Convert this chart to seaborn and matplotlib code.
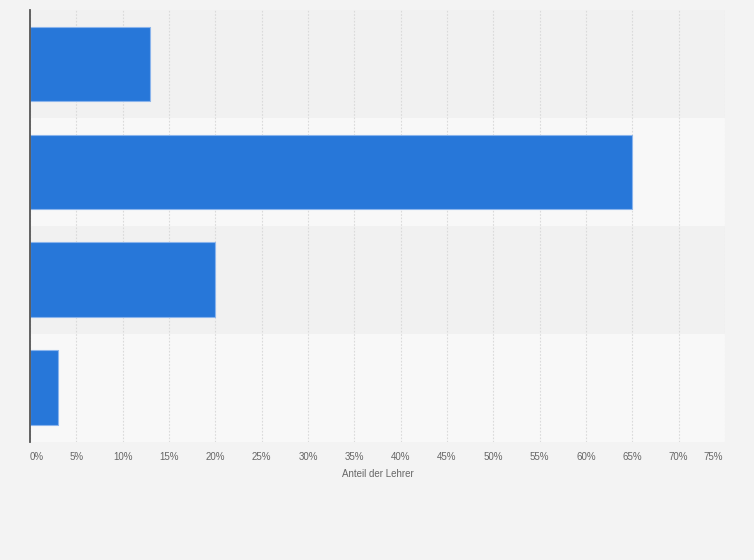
import matplotlib
matplotlib.use("Agg")
import matplotlib.pyplot as plt
import seaborn as sns
import pandas as pd
import numpy as np
from matplotlib.ticker import FixedLocator
from matplotlib.transforms import ScaledTranslation

categories = ["A", "B", "C", "D"]
values = [13, 65, 20, 3]
xticks = [0, 5, 10, 15, 20, 25, 30, 35, 40, 45, 50, 55, 60, 65, 70, 75]
xlabel = "Anteil der Lehrer"

sns.set_theme(style="white")
plt.rcParams['font.family'] = ['Arial', 'Liberation Sans', 'DejaVu Sans']

df = pd.DataFrame({"cat": categories, "val": values})

fig = plt.figure(figsize=(7.54, 5.6), dpi=100)
fig.patch.set_facecolor("#f3f3f3")
W, H = 754, 560
ax = fig.add_axes([30 / W, (H - 441.5) / H, (725 - 30) / W, (441.5 - 10) / H])
ax.set_facecolor("#f3f3f3")

# alternating bands
for i in range(len(categories)):
    col = "#f1f1f1" if i % 2 == 0 else "#f8f8f8"
    ax.axhspan(i - 0.5, i + 0.5, color=col, zorder=0, lw=0)

sns.barplot(data=df, x="val", y="cat", orient="h", color="#2777d9",
            saturation=1, width=0.69, edgecolor="#8ab4ec", linewidth=0.8,
            ax=ax, zorder=3)

ax.set_xlim(0, 75)
ax.set_ylim(len(categories) - 0.5, -0.5)
ax.xaxis.set_major_locator(FixedLocator(xticks))
ax.grid(axis="x", color="#dadada", linestyle=(0, (1.5, 1.5)), linewidth=0.8, zorder=1)
ax.set_axisbelow(True)
ax.set_yticks([])
ax.set_ylabel("")
ax.set_xlabel(xlabel, fontsize=7, color="#666666", labelpad=5)

ax.set_xticks(xticks)
labels = [f"{t}%" for t in xticks]
ax.set_xticklabels(labels, fontsize=7, color="#666666")
ax.tick_params(axis="x", length=0, pad=7.5)
tl = ax.get_xticklabels()
tl[0].set_transform(tl[0].get_transform() + ScaledTranslation(7 / 100, 0, fig.dpi_scale_trans))
tl[-1].set_transform(tl[-1].get_transform() + ScaledTranslation(-12 / 100, 0, fig.dpi_scale_trans))

for s in ["top", "right", "bottom"]:
    ax.spines[s].set_visible(False)
ax.spines["left"].set_color("#555555")
ax.spines["left"].set_linewidth(1.3)
ax.spines["left"].set_zorder(5)

fig.savefig("out.png", dpi=100, facecolor=fig.get_facecolor())
